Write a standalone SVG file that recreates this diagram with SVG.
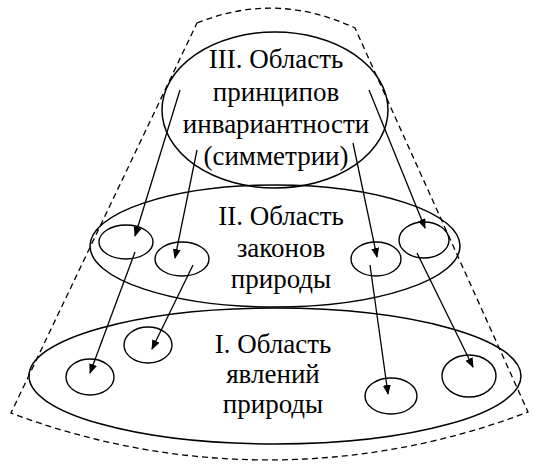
<svg xmlns="http://www.w3.org/2000/svg" width="534" height="464" viewBox="0 0 534 464">
<style>
.e{fill:none;stroke:#000;stroke-width:1.5}
.c{fill:none;stroke:#000;stroke-width:1.4}
.t{font-family:"Liberation Serif","Times New Roman",serif;font-size:27px;fill:#000;text-anchor:middle}
.a{stroke:#000;stroke-width:1.3;fill:none;marker-end:url(#ah)}
.d{fill:none;stroke:#000;stroke-width:1.3;stroke-dasharray:6 4}
</style>
<defs>
<marker id="ah" markerWidth="10" markerHeight="8" refX="9" refY="4" orient="auto" markerUnits="userSpaceOnUse">
<path d="M0,0 L10,4 L0,8 Z" fill="#000"/>
</marker>
</defs>
<rect width="534" height="464" fill="#fff"/>
<g id="outline">
<path class="d" d="M197,23 Q276,-9 355,28 L528,412 A728,728 0 0 1 11,413 Z"/>
</g>
<g id="area3">
<ellipse class="e" cx="275" cy="110" rx="113" ry="78"/>
<text class="t" x="276" y="68">III. Область</text>
<text class="t" x="276" y="101">принципов</text>
<text class="t" x="276" y="133">инвариантности</text>
<text class="t" x="276" y="165">(симметрии)</text>
</g>
<g id="area2">
<ellipse class="e" cx="275" cy="246" rx="185" ry="61"/>
<text class="t" x="281" y="225">II. Область</text>
<text class="t" x="281" y="257">законов</text>
<text class="t" x="281" y="288">природы</text>
</g>
<g id="area1">
<ellipse class="e" cx="275" cy="376" rx="246" ry="68"/>
<text class="t" x="273" y="353">I. Область</text>
<text class="t" x="273" y="383">явлений</text>
<text class="t" x="273" y="413">природы</text>
</g>
<g id="law1"><ellipse class="c" cx="126" cy="242" rx="27" ry="17"/></g>
<g id="law2"><ellipse class="c" cx="182" cy="259" rx="27" ry="17"/></g>
<g id="law3"><ellipse class="c" cx="376" cy="259" rx="25" ry="17"/></g>
<g id="law4"><ellipse class="c" cx="424" cy="240" rx="25" ry="18"/></g>
<g id="phen1"><ellipse class="c" cx="90" cy="377" rx="24" ry="18"/></g>
<g id="phen2"><ellipse class="c" cx="148" cy="345" rx="24" ry="18"/></g>
<g id="phen3"><ellipse class="c" cx="391" cy="396" rx="26" ry="18"/></g>
<g id="phen4"><ellipse class="c" cx="469" cy="376" rx="27" ry="21"/></g>
<g id="connectors">
<line class="a" x1="180" y1="90" x2="135" y2="236"/>
<line class="a" x1="197" y1="150" x2="175" y2="258"/>
<line class="a" x1="369" y1="90" x2="425" y2="228"/>
<line class="a" x1="353" y1="143" x2="377" y2="257"/>
<line class="a" x1="135" y1="252" x2="90" y2="373"/>
<line class="a" x1="193" y1="265" x2="152" y2="349"/>
<line class="a" x1="370" y1="265" x2="388" y2="394"/>
<line class="a" x1="417" y1="253" x2="473" y2="367"/>
</g>
</svg>
